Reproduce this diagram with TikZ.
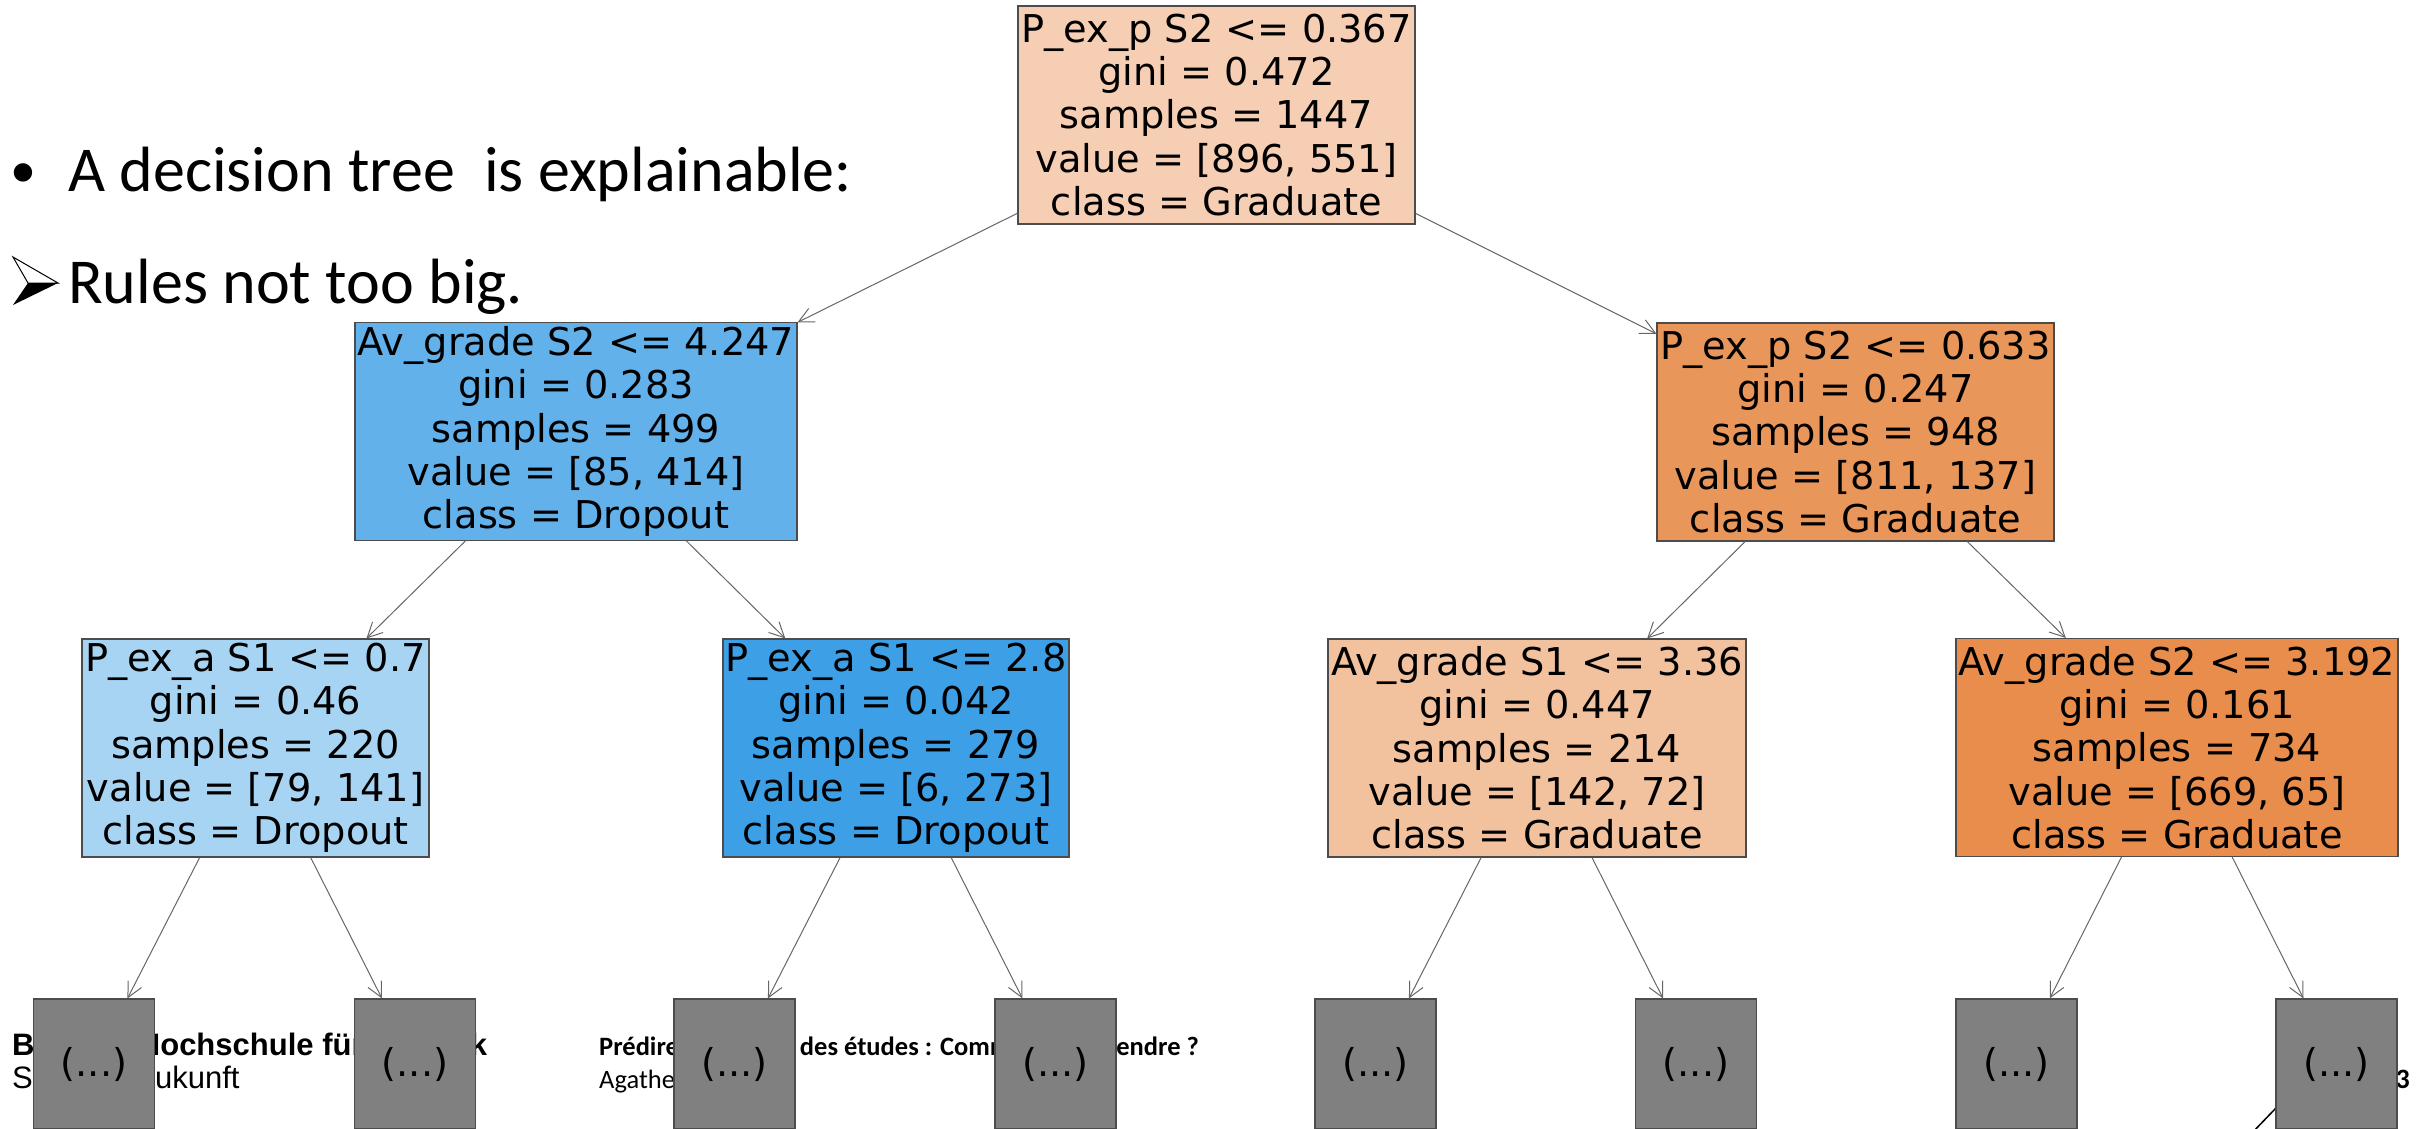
\documentclass[tikz,border=0pt]{standalone}
\usepackage{fontspec}
\setmainfont{Carlito}
\newfontfamily\treefont{DejaVu Sans}
\newfontfamily\schoolfont{Liberation Sans}
\usepackage{tikz}
\usetikzlibrary{arrows.meta}

\definecolor{gradroot}{RGB}{245,206,179}
\definecolor{gradright}{RGB}{233,150,90}
\definecolor{gradlow}{RGB}{242,193,157}
\definecolor{gradhigh}{RGB}{232,141,76}
\definecolor{dropleft}{RGB}{98,177,234}
\definecolor{droplow}{RGB}{168,212,244}
\definecolor{drophigh}{RGB}{61,159,230}
\definecolor{leafgray}{RGB}{128,128,128}

\tikzset{
    splitnode/.style={draw=black!70, line width=1.1pt, inner sep=0pt, align=center,
        minimum height=218pt, font=\treefont\fontsize{38.3}{43.3}\selectfont},
    leafnode/.style={splitnode, fill=leafgray, minimum width=121pt, minimum height=130pt},
    branchline/.style={draw=black!60, line width=1pt, -{Straight Barb[length=15pt,width=15pt]}},
    slidetext/.style={inner sep=0pt, anchor=base west, font=\fontsize{64}{77}\selectfont},
    footertext/.style={inner sep=0pt, anchor=base west}
}

\begin{document}
\begin{tikzpicture}[x=1pt, y=-1pt]

            \useasboundingbox (0,0) rectangle (2420,1128);

            % slide text behind the tree
            \node[slidetext, font=\fontsize{52}{60}\selectfont] (dot) at (10,187) {•};
            \node[slidetext] (point) at (68,191) {A decision tree\ \ is explainable:};
            \filldraw[fill=white, draw=black, line width=1pt] (13,257) -- (58,283) -- (28,283) -- cycle;
            \fill[black] (28,283) -- (58,283) -- (13,305) -- cycle;
            \node[slidetext] (rules) at (68,303) {Rules not too big.};

            \node[footertext, font=\schoolfont\bfseries\fontsize{31}{36}\selectfont] (school) at (12,1055) {Berliner Hochschule für Technik};
            \node[footertext, font=\schoolfont\fontsize{31}{36}\selectfont] (motto) at (12,1088) {Studiere Zukunft};
            \node[footertext, font=\bfseries\fontsize{26.5}{32}\selectfont] (talk) at (599,1055) {Prédire l'abandon des études : Comment l'apprendre ?};
            \node[footertext, font=\fontsize{26.5}{32}\selectfont] (author) at (599,1088) {Agathe};
            \node[footertext, anchor=base east, font=\bfseries\fontsize{28}{34}\selectfont] (page) at (2410,1088) {3};
            \draw[black, line width=1.5pt] (2250,1135) -- (2300,1083);

            % the tree
            \node[splitnode, fill=gradroot, minimum width=397pt] (A) at (1216.5,115) {P\_ex\_p S2 <= 0.367\\gini = 0.472\\samples = 1447\\value = [896, 551]\\class = Graduate};
            \node[splitnode, fill=dropleft, minimum width=442pt] (B) at (576,431.5) {Av\_grade S2 <= 4.247\\gini = 0.283\\samples = 499\\value = [85, 414]\\class = Dropout};
            \node[splitnode, fill=gradright, minimum width=397pt] (C) at (1855.5,432) {P\_ex\_p S2 <= 0.633\\gini = 0.247\\samples = 948\\value = [811, 137]\\class = Graduate};
            \node[splitnode, fill=droplow, minimum width=347pt] (D) at (255.5,748) {P\_ex\_a S1 <= 0.7\\gini = 0.46\\samples = 220\\value = [79, 141]\\class = Dropout};
            \node[splitnode, fill=drophigh, minimum width=346pt] (E) at (896,748) {P\_ex\_a S1 <= 2.8\\gini = 0.042\\samples = 279\\value = [6, 273]\\class = Dropout};
            \node[splitnode, fill=gradlow, minimum width=418pt] (F) at (1537,748) {Av\_grade S1 <= 3.36\\gini = 0.447\\samples = 214\\value = [142, 72]\\class = Graduate};
            \node[splitnode, fill=gradhigh, minimum width=442pt] (G) at (2177,747.5) {Av\_grade S2 <= 3.192\\gini = 0.161\\samples = 734\\value = [669, 65]\\class = Graduate};

            \node[leafnode] (d1) at (94,1064) {(...)};
            \node[leafnode] (d2) at (415,1064) {(...)};
            \node[leafnode] (e1) at (734.5,1064) {(...)};
            \node[leafnode] (e2) at (1055.5,1064) {(...)};
            \node[leafnode] (f1) at (1375.5,1064) {(...)};
            \node[leafnode] (f2) at (1696,1064) {(...)};
            \node[leafnode] (g1) at (2016.5,1064) {(...)};
            \node[leafnode] (g2) at (2336.5,1064) {(...)};

            \draw[branchline] (A) -- (B);
            \draw[branchline] (A) -- (C);
            \draw[branchline] (B) -- (D);
            \draw[branchline] (B) -- (E);
            \draw[branchline] (C) -- (F);
            \draw[branchline] (C) -- (G);
            \draw[branchline] (D) -- (d1);
            \draw[branchline] (D) -- (d2);
            \draw[branchline] (E) -- (e1);
            \draw[branchline] (E) -- (e2);
            \draw[branchline] (F) -- (f1);
            \draw[branchline] (F) -- (f2);
            \draw[branchline] (G) -- (g1);
            \draw[branchline] (G) -- (g2);

\end{tikzpicture}
\end{document}
